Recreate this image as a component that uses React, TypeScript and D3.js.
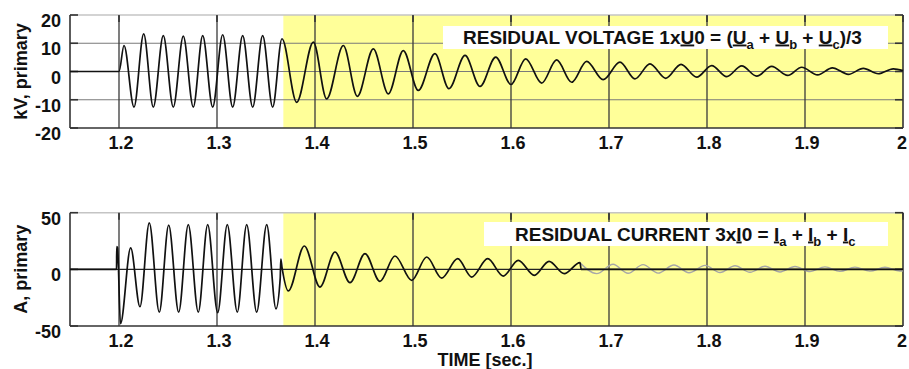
import React from 'react';
import * as d3 from 'd3';

const W = 909;
const H = 369;
const FONT = "'Liberation Sans', Arial, Helvetica, sans-serif";

// Time axis (seconds)
const timeDomain = [1.15, 2.0];
const xTicks = [1.2, 1.3, 1.4, 1.5, 1.6, 1.7, 1.8, 1.9, 2];
const xTickLabels = ['1.2', '1.3', '1.4', '1.5', '1.6', '1.7', '1.8', '1.9', '2'];

// Earth fault cleared: shaded interval starts here
const faultClearedAt = 1.3677;

// Residual voltage axis (kV, primary)
const voltageDomain = [-20, 20];
const voltageTicks = [20, 10, 0, -10, -20];

// Residual current axis (A, primary)
const currentDomain = [-50, 50];
const currentTicks = [50, 0, -50];

// Residual voltage 1xU0: start, every extremum, end
const voltageTime = [
  1.15, 1.2,
  1.2051, 1.2153, 1.2252, 1.2350, 1.2452, 1.2554, 1.2656, 1.2758, 1.2854,
  1.2956, 1.3058, 1.3160, 1.3262, 1.3364, 1.3466, 1.3568, 1.3663,
  1.3813, 1.3983, 1.4119, 1.4289, 1.4432, 1.4595, 1.4748, 1.4901, 1.5054, 1.5224,
  1.5367, 1.5531, 1.5684, 1.5844, 1.6000, 1.6150, 1.6313, 1.6466, 1.6619, 1.6772,
  1.6940, 1.7112, 1.7265, 1.7418, 1.7579, 1.7735, 1.7895, 1.8048, 1.8201, 1.8354,
  1.8507, 1.8660, 1.8823, 1.8966, 1.9129, 1.9279, 1.9442, 1.9595, 1.9748, 1.9901,
  2.0,
];
const voltageKV = [
  0, 0,
  9.2, -12.6, 13.3, -12.6, 12.7, -12.6, 12.5, -12.6, 12.7,
  -12.6, 13.0, -12.6, 12.7, -12.6, 12.7, -12.6, 11.6,
  -10.9, 10.4, -9.7, 9.2, -8.8, 8.0, -7.9, 7.4, -6.7, 6.3,
  -6.1, 5.7, -5.3, 5.1, -4.6, 4.5, -4.1, 4.1, -3.8, 3.6,
  -2.9, 3.3, -2.6, 2.7, -2.4, 2.5, -2.0, 2.1, -1.8, 2.0,
  -1.65, 1.8, -1.4, 1.5, -1.2, 1.3, -1.0, 1.1, -0.8, 0.95,
  0.3,
];

// Residual current 3xI0 as recorded (black trace)
const currentTime = [
  1.15, 1.1975, 1.1977, 1.1985, 1.2015,
  1.2119, 1.2214, 1.2309, 1.2411, 1.2507, 1.2609, 1.2707, 1.2809,
  1.2905, 1.3007, 1.3105, 1.3207, 1.3303, 1.3405, 1.3507, 1.3602,
  1.3645, 1.3651, 1.3663, 1.3728,
  1.3891, 1.4051, 1.4204, 1.4357, 1.4510, 1.4663, 1.4816, 1.4987, 1.5140, 1.5293,
  1.5456, 1.5599, 1.5762, 1.5921, 1.6074, 1.6238, 1.6388, 1.6544, 1.6704,
  1.6716, 2.0,
];
const currentA = [
  0, 0, 20, 19, -48,
  18.9, -33, 41, -37.8, 39, -37.8, 39.5, -37.8,
  39.5, -38.3, 39.5, -37.8, 39.5, -37.8, 39.5, -34.8,
  -8, 9, 2, -19,
  20.6, -15.6, 15.3, -11.8, 13.9, -10.6, 11.8, -9.7, 10.9, -7.7,
  9.4, -6.8, 9.4, -5.9, 8.0, -5.3, 7.1, -3.8, 5.9,
  0, 0,
];

// Residual current continuation after the recording drops out (grey trace)
const currentTailTime = [
  1.6704, 1.6874, 1.7041, 1.7194, 1.7347, 1.7500, 1.7663, 1.7816, 1.7980, 1.8133,
  1.8286, 1.8439, 1.8592, 1.8745, 1.8898, 1.9051, 1.9204, 1.9357, 1.9510, 1.9663,
  1.9816, 1.9969, 2.0,
];
const currentTailA = [
  5.9, -3.8, 4.5, -3.5, 4.2, -3.3, 3.8, -3.0, 3.5, -2.8,
  3.2, -2.6, 2.8, -2.3, 2.5, -2.0, 2.2, -1.8, 2.0, -1.6,
  1.8, -1.4, -1.2,
];

type Pt = [number, number];
const zip = (t: number[], v: number[]): Pt[] => t.map((d, i) => [d, v[i]]);

const PLOT_LEFT = 70;
const PLOT_RIGHT = 903;

const x = d3.scaleLinear().domain(timeDomain).range([PLOT_LEFT, PLOT_RIGHT]);

const YELLOW = '#ffff99';
const GRID_V = '#3a3a3a';
const GRID_H = '#7a7a7a';
const FRAME = '#333';
const TEXT = '#111';

type PanelProps = {
  top: number;
  bottom: number;
  domain: number[];
  ticks: number[];
  hGridColor: string;
  label: string;
  traces: { pts: Pt[]; color: string; width: number }[];
  box: { x0: number; y0: number; x1: number; y1: number; tx: number; ty: number };
  title: React.ReactNode;
};

function Panel({ top, bottom, domain, ticks, hGridColor, label, traces, box, title }: PanelProps) {
  const y = d3.scaleLinear().domain(domain).range([bottom, top]);
  const line = d3
    .line<Pt>()
    .x((d) => x(d[0]))
    .y((d) => y(d[1]))
    .curve(d3.curveMonotoneX);
  const inner = ticks.filter((t) => t !== domain[0] && t !== domain[1]);
  const xs = x(faultClearedAt);
  return (
    <g>
      <rect x={xs} y={top} width={PLOT_RIGHT - xs} height={bottom - top} fill={YELLOW} />
      {inner.map((t) => (
        <line key={'h' + t} x1={PLOT_LEFT} x2={PLOT_RIGHT} y1={y(t)} y2={y(t)} stroke={hGridColor} strokeWidth={1.2} />
      ))}
      {xTicks.filter((t) => t < timeDomain[1]).map((t) => (
        <line key={'v' + t} x1={x(t)} x2={x(t)} y1={top} y2={bottom} stroke={GRID_V} strokeWidth={1.3} />
      ))}
      {/* frame: light top edge, dark remaining edges */}
      <line x1={PLOT_LEFT} x2={PLOT_RIGHT} y1={top} y2={top} stroke="#c4c4c4" strokeWidth={1.5} />
      <line x1={PLOT_LEFT} x2={PLOT_RIGHT} y1={bottom} y2={bottom} stroke={FRAME} strokeWidth={1.6} />
      <line x1={PLOT_LEFT} x2={PLOT_LEFT} y1={top} y2={bottom} stroke={FRAME} strokeWidth={1.6} />
      <line x1={PLOT_RIGHT} x2={PLOT_RIGHT} y1={top} y2={bottom} stroke={FRAME} strokeWidth={1.6} />
      {ticks.map((t) => (
        <g key={'t' + t}>
          <line x1={PLOT_LEFT} x2={PLOT_LEFT + 8} y1={y(t)} y2={y(t)} stroke={FRAME} strokeWidth={1.6} />
          <line x1={PLOT_RIGHT - 8} x2={PLOT_RIGHT} y1={y(t)} y2={y(t)} stroke={FRAME} strokeWidth={1.6} />
        </g>
      ))}
      {xTicks.map((t) => (
        <line key={'xt' + t} x1={x(t)} x2={x(t)} y1={top} y2={top + 7} stroke={FRAME} strokeWidth={1.6} />
      ))}
      {/* caption box */}
      <rect x={box.x0} y={box.y0} width={box.x1 - box.x0} height={box.y1 - box.y0} fill="#fff" />
      <text x={box.tx} y={box.ty} fontFamily={FONT} fontWeight="bold" fontSize={19} fill={TEXT}>
        {title}
      </text>
      {traces.map((tr, i) => (
        <path key={i} d={line(tr.pts) || ''} fill="none" stroke={tr.color} strokeWidth={tr.width} strokeLinejoin="round" />
      ))}
      {/* y tick labels */}
      {ticks.map((t) => (
        <text key={'yl' + t} x={61} y={y(t) + 12} textAnchor="end" fontFamily={FONT} fontWeight="bold" fontSize={18} fill={TEXT}>
          {String(t)}
        </text>
      ))}
      {/* x tick labels */}
      {xTicks.map((t, i) => (
        <text key={'xl' + t} x={x(t) + (t < timeDomain[1] ? 2 : -1)} y={bottom + 21} textAnchor="middle" fontFamily={FONT} fontWeight="bold" fontSize={18} fill={TEXT}>
          {xTickLabels[i]}
        </text>
      ))}
      <text
        transform={`translate(27,${(top + bottom) / 2}) rotate(-90)`}
        textAnchor="middle"
        fontFamily={FONT}
        fontWeight="bold"
        fontSize={18}
        fill={TEXT}
      >
        {label}
      </text>
    </g>
  );
}

const U = { textDecoration: 'underline' } as React.CSSProperties;
const SUB_DY = 5;

export default function App() {
  // subscripts are lowered with dy and the following run is raised back
  const voltageTitle = (
    <>
      <tspan>RESIDUAL VOLTAGE 1x</tspan>
      <tspan style={U}>U</tspan>
      <tspan>0 = (</tspan>
      <tspan style={U}>U</tspan>
      <tspan dy={SUB_DY} fontSize={13}>a</tspan>
      <tspan dy={-SUB_DY}> + </tspan>
      <tspan style={U}>U</tspan>
      <tspan dy={SUB_DY} fontSize={13}>b</tspan>
      <tspan dy={-SUB_DY}> + </tspan>
      <tspan style={U}>U</tspan>
      <tspan dy={SUB_DY} fontSize={13}>c</tspan>
      <tspan dy={-SUB_DY}>)/3</tspan>
    </>
  );
  const currentTitle = (
    <>
      <tspan>RESIDUAL CURRENT 3x</tspan>
      <tspan style={U}>I</tspan>
      <tspan>0 = </tspan>
      <tspan style={U}>I</tspan>
      <tspan dy={SUB_DY} fontSize={13}>a</tspan>
      <tspan dy={-SUB_DY}> + </tspan>
      <tspan style={U}>I</tspan>
      <tspan dy={SUB_DY} fontSize={13}>b</tspan>
      <tspan dy={-SUB_DY}> + </tspan>
      <tspan style={U}>I</tspan>
      <tspan dy={SUB_DY} fontSize={13}>c</tspan>
    </>
  );

  return (
    <svg width={W} height={H} style={{ position: 'absolute', left: 0, top: 0, background: '#fff' }}>
      <rect width={W} height={H} fill="#fff" />
      <Panel
        top={15}
        bottom={128}
        domain={voltageDomain}
        ticks={voltageTicks}
        hGridColor={GRID_H}
        label="kV, primary"
        traces={[{ pts: zip(voltageTime, voltageKV), color: '#111', width: 1.7 }]}
        box={{ x0: 443, y0: 26, x1: 888, y1: 49, tx: 463, ty: 43.5 }}
        title={voltageTitle}
      />
      <Panel
        top={212.7}
        bottom={326}
        domain={currentDomain}
        ticks={currentTicks}
        hGridColor="#222"
        label="A, primary"
        traces={[
          { pts: zip(currentTailTime, currentTailA), color: '#a8a8a8', width: 1.4 },
          { pts: zip(currentTime, currentA), color: '#111', width: 1.7 },
        ]}
        box={{ x0: 484, y0: 222, x1: 888, y1: 246, tx: 515, ty: 240.5 }}
        title={currentTitle}
      />
      <text x={485} y={366} textAnchor="middle" fontFamily={FONT} fontWeight="bold" fontSize={18} fill={TEXT}>
        TIME [sec.]
      </text>
    </svg>
  );
}
